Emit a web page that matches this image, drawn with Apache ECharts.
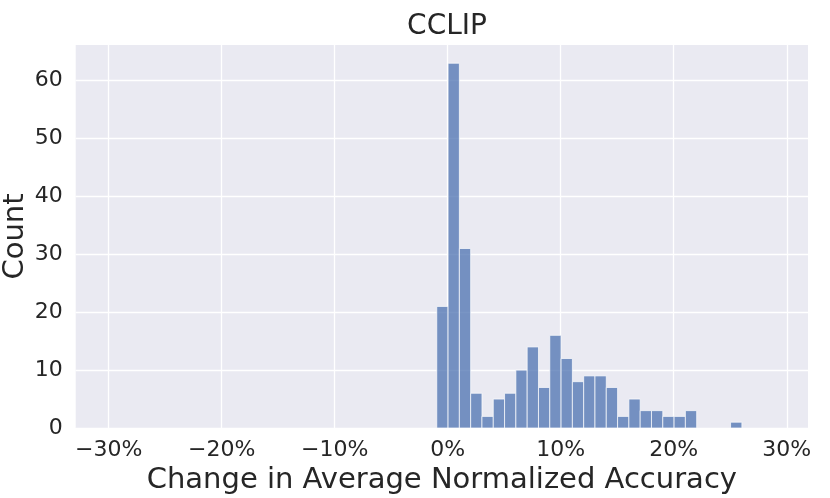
<!DOCTYPE html>
<html>
<head>
<meta charset="utf-8">
<script src="https://cdn.jsdelivr.net/npm/echarts@6/dist/echarts.min.js"></script>
<style>html,body{margin:0;padding:0;background:#fff;}#c{width:830px;height:498px;}</style>
</head>
<body>
<div id="c"></div>
<script>
// Histogram bin edges (% change) and counts
const binEdges = [-0.97, 0.03, 1.03, 2.03, 3.03, 4.03, 5.03, 6.03, 7.03, 8.03, 9.03, 10.03, 11.03, 12.03, 13.03, 14.03, 15.03, 16.03, 17.03, 18.03, 19.03, 20.03, 21.03, 22.03, 23.03, 24.03, 25.03, 26.03];
const counts = [21, 63, 31, 6, 2, 5, 6, 10, 14, 7, 16, 12, 8, 9, 9, 7, 2, 5, 3, 3, 2, 2, 3, 0, 0, 0, 1];
const xTicks = [-30, -20, -10, 0, 10, 20, 30];
const yTicks = [0, 10, 20, 30, 40, 50, 60];
const titleText = 'CCLIP';
const xLabel = 'Change in Average Normalized Accuracy';
const yLabel = 'Count';

const data = counts.map((c, i) => [binEdges[i], binEdges[i + 1], c]);
const font = 'DejaVu Sans';
const ink = '#262626';

const chart = echarts.init(document.getElementById('c'), null, {renderer: 'canvas'});
chart.setOption({
  animation: false,
  title: {
    text: titleText, left: 442, top: 8, textAlign: 'center',
    textStyle: {fontFamily: font, fontSize: 28, fontWeight: 'normal', color: ink}
  },
  grid: {
    left: 75.7, right: 22, top: 45, bottom: 70,
    outerBoundsMode: 'none', containLabel: false,
    show: true, backgroundColor: '#EAEAF2', borderWidth: 0
  },
  xAxis: {
    type: 'value', min: -32.92, max: 31.88,
    name: xLabel, nameLocation: 'middle', nameGap: 38, nameMoveOverlap: false,
    nameTextStyle: {fontFamily: font, fontSize: 29, color: ink},
    axisLine: {show: false},
    axisTick: {show: false, customValues: xTicks},
    axisLabel: {customValues: xTicks, margin: 11, fontFamily: font, fontSize: 22, color: ink,
      formatter: v => (v < 0 ? '\u2212' + Math.abs(v) : v) + '%'},
    splitLine: {show: true, lineStyle: {color: '#ffffff', width: 1.3}}
  },
  yAxis: {
    type: 'value', min: 0, max: 66.15,
    name: yLabel, nameLocation: 'middle', nameGap: 46, nameMoveOverlap: false,
    nameTextStyle: {fontFamily: font, fontSize: 29, color: ink},
    axisLine: {show: false},
    axisTick: {show: false, customValues: yTicks},
    axisLabel: {customValues: yTicks, margin: 13, fontFamily: font, fontSize: 22, color: ink},
    splitLine: {show: true, lineStyle: {color: '#ffffff', width: 1.3}}
  },
  series: [{
    type: 'custom',
    data: data,
    encode: {x: [0, 1], y: 2},
    renderItem: function (params, api) {
      const x0 = api.value(0), x1 = api.value(1), c = api.value(2);
      if (!c) return null;
      const p0 = api.coord([x0, c]);
      const p1 = api.coord([x1, 0]);
      return {
        type: 'rect',
        shape: {x: p0[0], y: p0[1], width: p1[0] - p0[0], height: p1[1] - p0[1]},
        style: {fill: 'rgba(76,114,176,0.75)', stroke: 'rgba(255,255,255,0.7)', lineWidth: 1}
      };
    }
  }]
});
</script>
</body>
</html>
